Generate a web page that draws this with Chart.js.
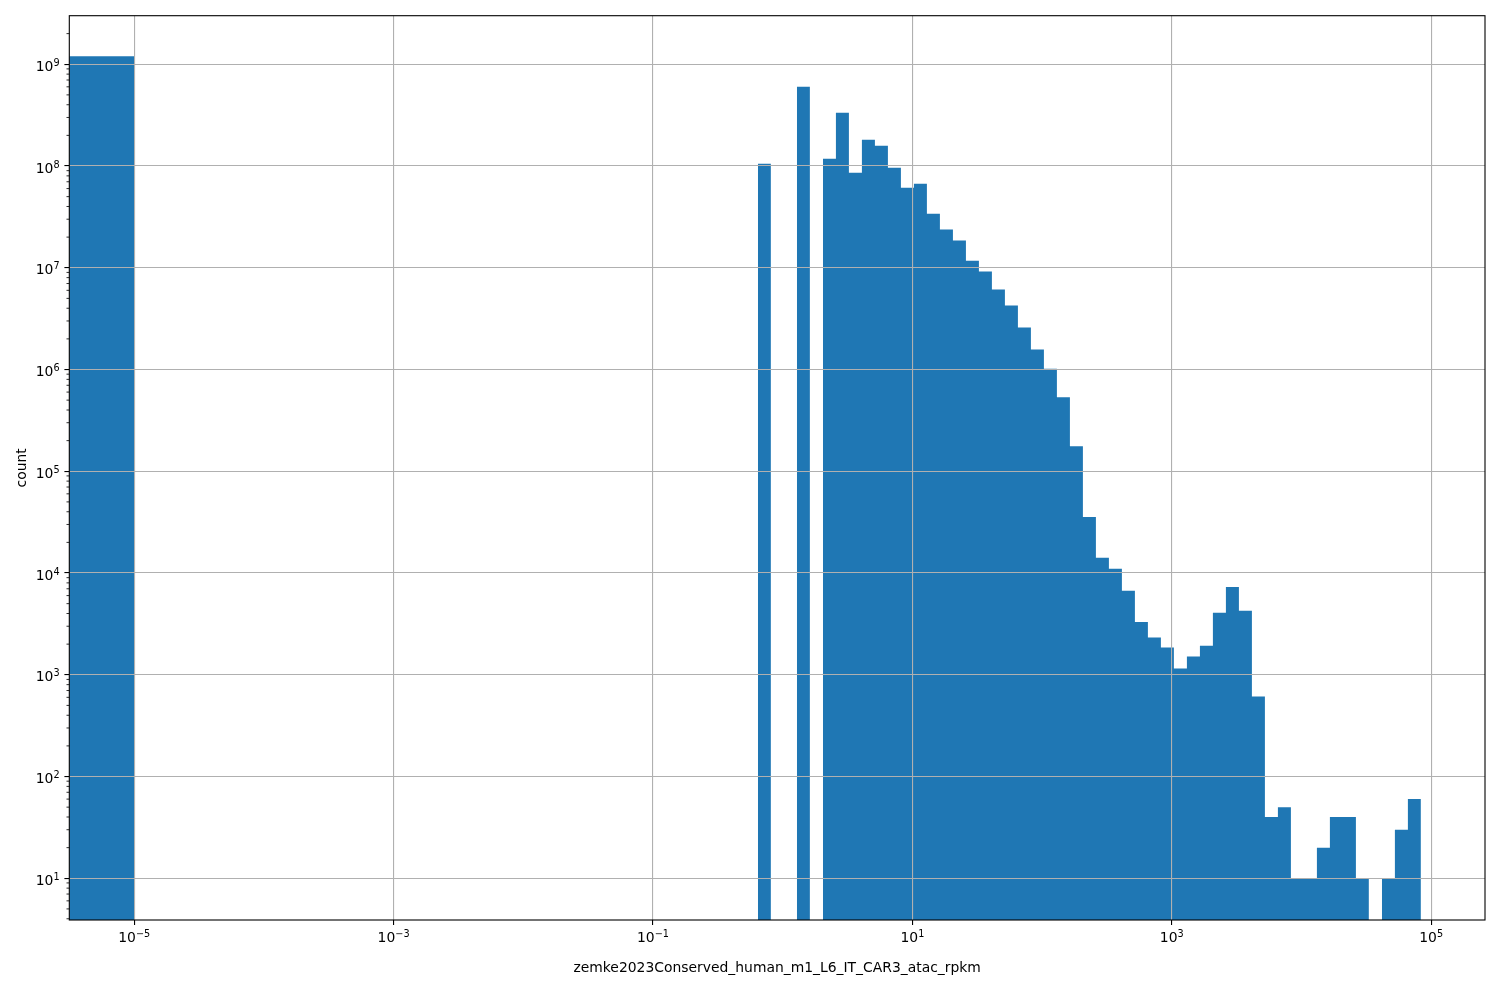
<!DOCTYPE html>
<html>
<head>
<meta charset="utf-8">
<title>zemke2023Conserved_human_m1_L6_IT_CAR3_atac_rpkm</title>
<script src="https://cdn.jsdelivr.net/npm/chart.js@4.4.1/dist/chart.umd.min.js"></script>
<style>
  html, body { margin:0; padding:0; background:#fff; }
  #wrap { width:1500px; height:1000px; position:relative; }
</style>
</head>
<body>
<div id="wrap"><canvas id="hist"></canvas></div>
<script>
// ── Data ──────────────────────────────────────────────────────────────────
// bin edges; first bin is [0, 1e-5], the next one (1e-5 .. 0.644) is empty
const binEdges = [0, 1e-5,
  0.6442, 0.8114, 1.022, 1.287, 1.622, 2.043, 2.573, 3.240, 4.081, 5.142,
  6.476, 8.157, 10.28, 12.94, 16.30, 20.54, 25.87, 32.58, 41.03, 51.69,
  65.11, 82.00, 103.3, 130.1, 163.9, 206.4, 260.0, 327.5, 412.5, 519.6,
  654.4, 824.3, 1038, 1308, 1648, 2075, 2614, 3293, 4147, 5224,
  6580, 8288, 10440, 13150, 16560, 20860, 26280, 33100, 41690, 52510,
  66140, 83310];
const binCounts = [1.2e9, 0,
  1.05e8, 0, 0, 6.0e8, 0, 1.18e8, 3.34e8, 8.6e7, 1.81e8, 1.58e8,
  9.6e7, 6.1e7, 6.7e7, 3.4e7, 2.37e7, 1.85e7, 1.17e7, 9.2e6, 6.1e6, 4.26e6,
  2.59e6, 1.57e6, 1.02e6, 5.35e5, 1.76e5, 3.56e4, 1.41e4, 1.1e4, 6700, 3300,
  2320, 1850, 1150, 1510, 1930, 4060, 7300, 4250, 612, 40,
  50, 10, 10, 20, 40, 40, 10, 0, 10, 30, 60];

const xTickVals = [1e-5, 1e-3, 1e-1, 1e1, 1e3, 1e5];
const xTickExps = ['\u22125', '\u22123', '\u22121', '1', '3', '5'];
const yTickVals = [1e1, 1e2, 1e3, 1e4, 1e5, 1e6, 1e7, 1e8, 1e9];
const yTickExps = ['1', '2', '3', '4', '5', '6', '7', '8', '9'];
const yMinorMult    = [2, 3, 4, 5, 6, 7, 8, 9];
const yMinorDecades = [1, 10, 1e2, 1e3, 1e4, 1e5, 1e6, 1e7, 1e8, 1e9];

const xTitle = 'zemke2023Conserved_human_m1_L6_IT_CAR3_atac_rpkm';
const yTitle = 'count';

const xMin = 3.16e-6, xMax = 2.6e5;
const yMin = 3.89,    yMax = 3.0e9;

// ── Style ─────────────────────────────────────────────────────────────────
const BAR  = '#1f77b4';
const GRID = '#b0b0b0';
const FONT = {family: 'DejaVu Sans', size: 13.9};
const BASE_FONT = '13.9px "DejaVu Sans"';
const SUP_FONT  = '9.7px "DejaVu Sans"';
Chart.defaults.font.family = 'DejaVu Sans';
Chart.defaults.color = '#000';

// histogram outline: two points per non-empty bin, a gap for empty ones
const pts = [];
binCounts.forEach((c, i) => {
  const left = binEdges[i] > 0 ? binEdges[i] : xMin / 10; // 0 sits left of a log axis
  if (c > 0) pts.push({x: left, y: c}, {x: binEdges[i + 1], y: c});
  else pts.push({x: left, y: null});
});

const yMinor = [];
yMinorDecades.forEach(d => yMinorMult.forEach(m => {
  const v = m * d;
  if (v > yMin && v < yMax) yMinor.push(v);
}));

// "10" + raised exponent, like matplotlib's mathtext labels
function drawPow(ctx, exp, x, y, align) {
  ctx.font = BASE_FONT;
  const wb = ctx.measureText('10').width;
  ctx.font = SUP_FONT;
  const we = ctx.measureText(exp).width;
  const x0 = align === 'center' ? x - (wb + we) / 2 : x - (wb + we);
  ctx.font = BASE_FONT; ctx.fillText('10', x0, y);
  ctx.font = SUP_FONT;  ctx.fillText(exp, x0 + wb, y - 5);
}

// spines, minor y ticks, tick labels
const frame = {
  id: 'frame',
  afterDraw(chart) {
    const {ctx, chartArea: a, scales: {x, y}} = chart;
    ctx.save();
    ctx.strokeStyle = '#000';
    ctx.lineWidth = 0.83;
    yMinor.forEach(v => {
      const py = y.getPixelForValue(v);
      ctx.beginPath(); ctx.moveTo(a.left - 2.8, py); ctx.lineTo(a.left, py); ctx.stroke();
    });
    ctx.lineWidth = 1.1;
    ctx.strokeRect(a.left, a.top, a.right - a.left, a.bottom - a.top);

    ctx.fillStyle = '#000';
    ctx.textAlign = 'left';
    ctx.textBaseline = 'alphabetic';
    xTickVals.forEach((v, i) => drawPow(ctx, xTickExps[i], x.getPixelForValue(v), a.bottom + 22, 'center'));
    yTickVals.forEach((v, i) => drawPow(ctx, yTickExps[i], a.left - 9.7, y.getPixelForValue(v) + 6.6, 'right'));
    ctx.restore();
  }
};

new Chart(document.getElementById('hist'), {
  type: 'line',
  data: {
    datasets: [{
      data: pts,
      backgroundColor: BAR, borderColor: BAR, borderWidth: 0,
      pointRadius: 0, pointHoverRadius: 0,
      fill: 'start', tension: 0, spanGaps: false
    }]
  },
  options: {
    responsive: true, maintainAspectRatio: false, animation: false,
    layout: {padding: {top: 15.7, right: 15, bottom: 0, left: 0}},
    plugins: {legend: {display: false}, tooltip: {enabled: false}},
    scales: {
      x: {
        type: 'logarithmic', min: xMin, max: xMax,
        afterBuildTicks: ax => { ax.ticks = xTickVals.map(v => ({value: v})); },
        afterFit: ax => { ax.height = 80; },
        ticks: {display: false, autoSkip: false, maxRotation: 0, minRotation: 0},
        grid: {z: 1, color: GRID, lineWidth: 1.1, tickColor: '#000', tickWidth: 1.1, tickLength: 4.9},
        border: {display: false},
        title: {display: true, text: xTitle, color: '#000', font: FONT, padding: {top: 0, bottom: 23.2}}
      },
      y: {
        type: 'logarithmic', min: yMin, max: yMax,
        afterBuildTicks: ax => { ax.ticks = yTickVals.map(v => ({value: v})); },
        afterFit: ax => { ax.width = 69.3; },
        ticks: {display: false, autoSkip: false},
        grid: {z: 1, color: GRID, lineWidth: 1.1, tickColor: '#000', tickWidth: 1.1, tickLength: 4.9},
        border: {display: false},
        title: {display: true, text: yTitle, color: '#000', font: FONT, padding: {top: 14.2, bottom: 0}}
      }
    }
  },
  plugins: [frame]
});
</script>
</body>
</html>
